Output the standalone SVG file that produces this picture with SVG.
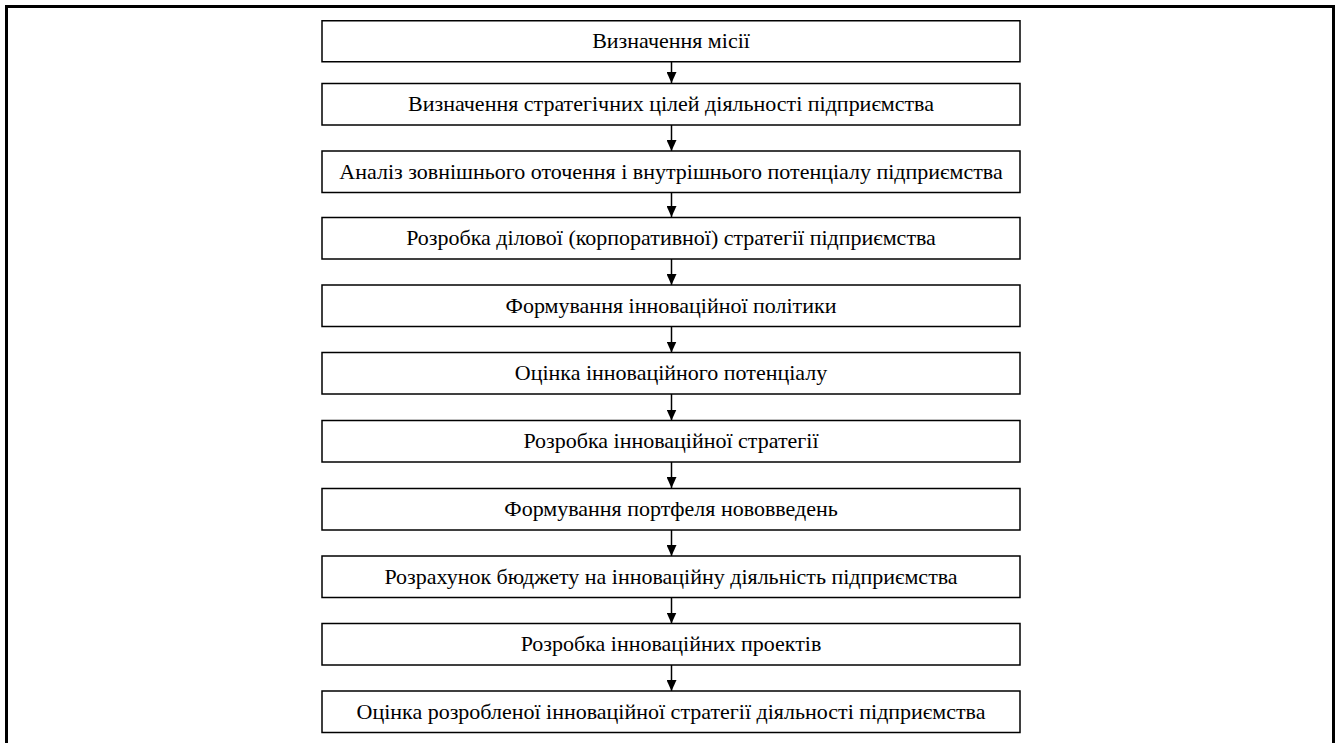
<svg xmlns="http://www.w3.org/2000/svg" width="1338" height="743" viewBox="0 0 1338 743">
<defs>
<style>
.box{fill:#fff;stroke:#000;stroke-width:1.5}
.lbl{font-family:"Liberation Serif","Times New Roman",serif;font-size:20px;fill:#000;text-anchor:middle}
.conn{stroke:#000;stroke-width:1.5;fill:none}
</style>
<marker id="ah" markerWidth="10" markerHeight="11" refX="5" refY="11" orient="0" markerUnits="userSpaceOnUse" viewBox="0 0 10 11">
<path d="M0,0 L10,0 L5,11 Z" fill="#000"/>
</marker>
</defs>
<rect x="0" y="0" width="1338" height="743" fill="#fff"/>
<rect x="6.5" y="6.5" width="1327" height="760" fill="none" stroke="#000" stroke-width="3"/>
<g id="connectors">
<line class="conn" x1="671.5" y1="62" x2="671.5" y2="83" marker-end="url(#ah)"/>
<line class="conn" x1="671.5" y1="125" x2="671.5" y2="151" marker-end="url(#ah)"/>
<line class="conn" x1="671.5" y1="192.5" x2="671.5" y2="217" marker-end="url(#ah)"/>
<line class="conn" x1="671.5" y1="259" x2="671.5" y2="285" marker-end="url(#ah)"/>
<line class="conn" x1="671.5" y1="326.5" x2="671.5" y2="352.5" marker-end="url(#ah)"/>
<line class="conn" x1="671.5" y1="394" x2="671.5" y2="420.5" marker-end="url(#ah)"/>
<line class="conn" x1="671.5" y1="462" x2="671.5" y2="488" marker-end="url(#ah)"/>
<line class="conn" x1="671.5" y1="530" x2="671.5" y2="556" marker-end="url(#ah)"/>
<line class="conn" x1="671.5" y1="597.5" x2="671.5" y2="623.5" marker-end="url(#ah)"/>
<line class="conn" x1="671.5" y1="665" x2="671.5" y2="691" marker-end="url(#ah)"/>
</g>
<g id="n1"><rect class="box" x="322" y="20.75" width="698" height="41"/><text class="lbl" transform="translate(671,48) scale(1.1,1)">Визначення місії</text></g>
<g id="n2"><rect class="box" x="322" y="83.5" width="698" height="41.5"/><text class="lbl" transform="translate(671,111) scale(1.1,1)">Визначення стратегічних цілей діяльності підприємства</text></g>
<g id="n3"><rect class="box" x="322" y="151" width="698" height="41.5"/><text class="lbl" transform="translate(671,178.5) scale(1.1,1)">Аналіз зовнішнього оточення і внутрішнього потенціалу підприємства</text></g>
<g id="n4"><rect class="box" x="322" y="217.5" width="698" height="41.5"/><text class="lbl" transform="translate(671,245) scale(1.1,1)">Розробка ділової (корпоративної) стратегії підприємства</text></g>
<g id="n5"><rect class="box" x="322" y="285" width="698" height="41.5"/><text class="lbl" transform="translate(671,312.5) scale(1.1,1)">Формування інноваційної політики</text></g>
<g id="n6"><rect class="box" x="322" y="352.5" width="698" height="41.5"/><text class="lbl" transform="translate(671,380) scale(1.1,1)">Оцінка інноваційного потенціалу</text></g>
<g id="n7"><rect class="box" x="322" y="420.5" width="698" height="41.5"/><text class="lbl" transform="translate(671,448) scale(1.1,1)">Розробка інноваційної стратегії</text></g>
<g id="n8"><rect class="box" x="322" y="488.5" width="698" height="41.5"/><text class="lbl" transform="translate(671,516) scale(1.1,1)">Формування портфеля нововведень</text></g>
<g id="n9"><rect class="box" x="322" y="556" width="698" height="41.5"/><text class="lbl" transform="translate(671,583.5) scale(1.1,1)">Розрахунок бюджету на інноваційну діяльність підприємства</text></g>
<g id="n10"><rect class="box" x="322" y="623.5" width="698" height="41.5"/><text class="lbl" transform="translate(671,651) scale(1.1,1)">Розробка інноваційних проектів</text></g>
<g id="n11"><rect class="box" x="322" y="691" width="698" height="41.5"/><text class="lbl" transform="translate(671,718.5) scale(1.1,1)">Оцінка розробленої інноваційної стратегії діяльності підприємства</text></g>
</svg>
